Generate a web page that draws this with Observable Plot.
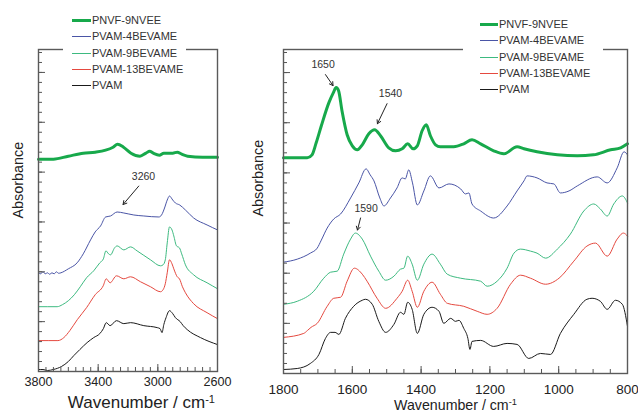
<!DOCTYPE html>
<html><head><meta charset="utf-8">
<script src="https://cdn.jsdelivr.net/npm/d3@7"></script>
<script src="https://cdn.jsdelivr.net/npm/@observablehq/plot@0.6"></script>
<style>
body{margin:0;background:#fff;font-family:"Liberation Sans",Arial,sans-serif;}
#wrap{position:relative;width:638px;height:417px;overflow:hidden;background:#fff;}
.panel{position:absolute;top:0;}
.gap{position:absolute;background:#fff;}
.row{position:absolute;height:14px;display:flex;align-items:center;white-space:nowrap;font-size:11px;color:#333;}
.row span.ln{display:inline-block;margin-right:1px;}
</style>
</head><body><div id="wrap"></div>
<script>
// ---- series ----
const seriesNames = ["PNVF-9NVEE", "PVAM-4BEVAME", "PVAM-9BEVAME", "PVAM-13BEVAME", "PVAM"];
const seriesColors = ["#17a94b", "#4a55a6", "#3dba80", "#e5493f", "#1a1a1a"];
const seriesWidths = [3, 1, 1, 1, 1];

// ---- high-wavenumber region (3800-2600 cm-1): [wavenumber, absorbance(offset)] ----
const hiPNVF = [[3800,2.13],[3700,2.13],[3600,2.16],[3500,2.19],[3420,2.20],[3350,2.22],[3300,2.25],[3270,2.28],[3230,2.25],[3180,2.19],[3120,2.16],[3080,2.19],[3055,2.21],[3030,2.19],[2990,2.17],[2960,2.19],[2900,2.19],[2870,2.20],[2840,2.18],[2800,2.16],[2700,2.15],[2600,2.15]];
const hi4BEV = [[3800,0.99],[3785,0.98],[3770,1.00],[3755,0.98],[3740,0.99],[3725,0.975],[3710,0.99],[3695,0.98],[3680,1.00],[3665,0.985],[3650,0.99],[3600,1.03],[3541,1.09],[3500,1.18],[3451,1.32],[3420,1.40],[3384,1.46],[3350,1.55],[3317,1.56],[3273,1.60],[3228,1.59],[3161,1.57],[3094,1.56],[2993,1.55],[2975,1.57],[2955,1.64],[2937,1.72],[2922,1.76],[2900,1.72],[2882,1.69],[2853,1.67],[2815,1.62],[2760,1.54],[2670,1.47],[2600,1.42]];
const hi9BEV = [[3800,0.65],[3675,0.65],[3640,0.67],[3600,0.71],[3560,0.77],[3520,0.85],[3478,0.94],[3430,1.01],[3389,1.09],[3365,1.13],[3348,1.21],[3330,1.18],[3317,1.17],[3290,1.24],[3273,1.26],[3228,1.22],[3183,1.25],[3139,1.21],[3049,1.12],[2982,1.06],[2965,1.07],[2950,1.12],[2937,1.29],[2922,1.45],[2905,1.42],[2893,1.36],[2875,1.26],[2855,1.24],[2840,1.18],[2815,1.07],[2760,0.97],[2670,0.89],[2600,0.83]];
const hi13BEV = [[3800,0.31],[3670,0.31],[3630,0.34],[3590,0.41],[3540,0.52],[3478,0.64],[3420,0.77],[3366,0.86],[3346,0.93],[3320,0.89],[3277,0.96],[3228,0.93],[3183,0.95],[3116,0.90],[3049,0.85],[2982,0.80],[2965,0.82],[2950,0.88],[2937,0.99],[2922,1.12],[2905,1.08],[2893,1.03],[2870,0.95],[2855,0.93],[2835,0.85],[2815,0.79],[2760,0.68],[2670,0.59],[2600,0.53]];
const hiPVAM = [[3800,0.02],[3770,0.02],[3740,0.01],[3700,0.02],[3646,0.05],[3600,0.10],[3563,0.16],[3523,0.22],[3474,0.29],[3430,0.34],[3389,0.38],[3365,0.43],[3346,0.49],[3320,0.46],[3277,0.51],[3228,0.48],[3183,0.49],[3094,0.46],[3004,0.44],[2985,0.43],[2972,0.39],[2960,0.47],[2945,0.54],[2922,0.61],[2900,0.58],[2882,0.54],[2850,0.50],[2830,0.46],[2803,0.42],[2714,0.34],[2600,0.27]];

// ---- fingerprint region (1800-800 cm-1) ----
const loPNVF = [[1800,2.15],[1731,2.15],[1717,2.18],[1705,2.30],[1690,2.47],[1668,2.70],[1655,2.80],[1647,2.85],[1640,2.82],[1630,2.62],[1615,2.38],[1600,2.27],[1585,2.23],[1571,2.28],[1552,2.39],[1535,2.43],[1518,2.37],[1494,2.25],[1474,2.22],[1455,2.24],[1439,2.29],[1423,2.24],[1411,2.27],[1397,2.42],[1385,2.48],[1373,2.37],[1358,2.28],[1344,2.26],[1305,2.26],[1276,2.29],[1252,2.33],[1227,2.29],[1189,2.22],[1160,2.19],[1121,2.26],[1101,2.24],[1063,2.21],[1004,2.18],[946,2.17],[899,2.18],[849,2.23],[820,2.25],[800,2.29]];
const lo4BEV = [[1800,1.11],[1760,1.14],[1722,1.20],[1702,1.25],[1690,1.33],[1673,1.45],[1654,1.54],[1634,1.59],[1605,1.75],[1581,1.90],[1560,2.04],[1548,1.98],[1537,1.92],[1520,1.75],[1508,1.67],[1489,1.75],[1470,1.85],[1455,1.95],[1446,1.94],[1436,2.03],[1425,1.90],[1411,1.68],[1392,1.82],[1373,1.97],[1348,1.85],[1319,1.89],[1285,1.84],[1271,1.79],[1261,1.80],[1252,1.69],[1227,1.62],[1189,1.55],[1150,1.67],[1121,1.82],[1101,1.92],[1092,1.97],[1063,1.95],[1034,1.90],[1014,1.89],[995,1.80],[970,1.82],[946,1.87],[888,1.96],[859,1.90],[830,2.05],[810,2.21],[800,2.18]];
const lo9BEV = [[1800,0.69],[1760,0.72],[1712,0.82],[1683,0.95],[1663,1.01],[1644,1.02],[1625,1.19],[1605,1.34],[1591,1.40],[1571,1.34],[1547,1.17],[1523,1.02],[1503,0.93],[1479,0.97],[1460,1.04],[1450,1.05],[1439,1.17],[1426,1.09],[1411,0.93],[1392,1.09],[1368,1.19],[1344,1.09],[1324,0.99],[1285,0.95],[1227,0.92],[1208,0.87],[1179,0.92],[1150,1.05],[1130,1.20],[1111,1.24],[1082,1.22],[1063,1.20],[1038,1.15],[1004,1.24],[966,1.39],[927,1.62],[898,1.69],[879,1.64],[859,1.57],[840,1.69],[815,1.77],[800,1.70]];
const lo13BEV = [[1800,0.36],[1741,0.40],[1730,0.43],[1720,0.46],[1702,0.50],[1673,0.67],[1654,0.75],[1634,0.76],[1615,0.92],[1594,1.05],[1571,0.99],[1557,0.92],[1528,0.75],[1503,0.65],[1470,0.75],[1455,0.82],[1439,0.93],[1426,0.82],[1411,0.66],[1392,0.82],[1368,0.91],[1344,0.79],[1324,0.70],[1276,0.67],[1237,0.62],[1208,0.59],[1179,0.65],[1140,0.89],[1111,0.98],[1082,0.95],[1038,0.89],[999,0.95],[956,1.12],[918,1.27],[893,1.30],[859,1.17],[830,1.34],[812,1.40],[800,1.37]];
const loPVAM = [[1800,0.04],[1760,0.05],[1722,0.10],[1697,0.19],[1678,0.35],[1663,0.41],[1650,0.41],[1639,0.39],[1620,0.55],[1596,0.67],[1571,0.73],[1562,0.74],[1542,0.69],[1523,0.52],[1503,0.41],[1479,0.49],[1460,0.61],[1450,0.59],[1439,0.71],[1426,0.64],[1411,0.40],[1392,0.59],[1368,0.66],[1348,0.62],[1334,0.50],[1314,0.55],[1300,0.52],[1290,0.53],[1276,0.45],[1264,0.35],[1258,0.24],[1252,0.32],[1227,0.33],[1189,0.27],[1150,0.30],[1121,0.29],[1087,0.15],[1053,0.20],[1024,0.19],[995,0.40],[956,0.59],[918,0.74],[903,0.75],[879,0.72],[859,0.64],[835,0.73],[815,0.69],[800,0.47]];

// ---- tick labels ----
const hiTickLabels = [3800, 3400, 3000, 2600];
const loTickLabels = [1800, 1600, 1400, 1200, 1000, 800];

// ---- annotations (wavenumber, absorbance) ----
const hiNotes = [{label: "3260", w: 3096, a: 1.955}];
const hiArrows = [{w1: 3128, a1: 1.86, w2: 3233, a2: 1.675}];
const loNotes = [{label: "1650", w: 1685, a: 3.08}, {label: "1540", w: 1489, a: 2.795}, {label: "1590", w: 1560, a: 1.64}];
const loArrows = [{w1: 1678, a1: 2.98, w2: 1656, a2: 2.87}, {w1: 1499, a1: 2.69, w2: 1527, a2: 2.49}, {w1: 1576, a1: 1.55, w2: 1585, a2: 1.43}];

const FONT = '"Liberation Sans", Arial, sans-serif';
const yDomain = [0, 3.23];
const yMinor = d3.range(0, 3.23, 0.1).map(v => +v.toFixed(2));
const yMajor = [0, 0.5, 1, 1.5, 2, 2.5, 3];

function toRows(arr) { return arr.map(([w, a]) => ({w, a})); }

function panel(o) {
  const frameH = o.height - o.mT - o.mB;
  const frameW = o.width - o.mL - o.mR;
  const marks = [];
  o.series.forEach((arr, i) => {
    marks.push(Plot.line(toRows(arr), {x: "w", y: "a", stroke: seriesColors[i], strokeWidth: seriesWidths[i], curve: "monotone-x"}));
  });
  marks.push(
    Plot.tickX(o.minorX, {x: d => d, insetTop: frameH - 4, stroke: "#555", strokeWidth: 1}),
    Plot.tickX(o.majorX, {x: d => d, insetTop: frameH - 7, stroke: "#555", strokeWidth: 1}),
    Plot.tickY(yMinor, {y: d => d, insetRight: frameW - 4, stroke: "#555", strokeWidth: 1}),
    Plot.tickY(yMajor, {y: d => d, insetRight: frameW - 7, stroke: "#555", strokeWidth: 1}),
    Plot.frame({stroke: "#5a5a5a", strokeWidth: 1.4}),
    Plot.axisX({ticks: o.majorX, tickSize: 0, tickPadding: o.tickPad, fontSize: o.tickFont, label: null, tickFormat: d => String(d), fill: "#222"}),
    Plot.text(["Absorbance"], {frameAnchor: "left", text: d => d, rotate: -90, dx: o.absDx, dy: o.absDy, fontSize: 14.4, fill: "#222"}),
    Plot.text(["Wavenumber / cm"], {x: o.labelW, frameAnchor: "bottom", text: d => d, dy: o.labelDy, fontSize: o.labelFont, fill: "#222"}),
    Plot.arrow(o.arrows, {x1: "w1", y1: "a1", x2: "w2", y2: "a2", stroke: "#222", strokeWidth: 1, headLength: 6}),
    Plot.text(o.notes, {x: "w", y: "a", text: "label", fontSize: 10.5, fill: "#333"})
  );
  const svg = Plot.plot({
    width: o.width, height: o.height,
    marginLeft: o.mL, marginRight: o.mR, marginTop: o.mT, marginBottom: o.mB,
    x: {domain: o.xDomain, axis: null},
    y: {domain: yDomain, axis: null},
    style: {fontFamily: FONT, background: "transparent", overflow: "visible"},
    marks
  });
  d3.select(svg).selectAll("text").filter(function() { return this.textContent === "Wavenumber / cm"; })
    .append("tspan").attr("dy", "-0.45em").attr("font-size", "0.65em").text("-1");
  svg.classList.add("panel");
  svg.style.left = o.left + "px";
  return svg;
}

const wrap = document.getElementById("wrap");
wrap.appendChild(panel({
  left: 0, width: 230, height: 417, mL: 38, mR: 13, mT: 49, mB: 46,
  xDomain: [3800, 2600], series: [hiPNVF, hi4BEV, hi9BEV, hi13BEV, hiPVAM],
  minorX: d3.range(3800, 2599, -50), majorX: hiTickLabels,
  tickFont: 12.6, tickPad: 6, labelFont: 17, labelW: 3110, labelDy: 36,
  absDx: -20, absDy: 8, notes: hiNotes, arrows: hiArrows
}));
wrap.appendChild(panel({
  left: 230, width: 408, height: 417, mL: 53, mR: 11, mT: 49, mB: 44,
  xDomain: [1800, 800], series: [loPNVF, lo4BEV, lo9BEV, lo13BEV, loPVAM],
  minorX: d3.range(1800, 799, -50), majorX: loTickLabels,
  tickFont: 13.5, tickPad: 11, labelFont: 14.2, labelW: 1300, labelDy: 36,
  absDx: -25, absDy: 5, notes: loNotes, arrows: loArrows
}));

// legends (overlap the top frame line, white box breaks it)
function legend(gapLeft, gapWidth, lineX, lineW, rowYs) {
  const gap = document.createElement("div");
  gap.className = "gap";
  Object.assign(gap.style, {left: gapLeft + "px", top: "44px", width: gapWidth + "px", height: "10px"});
  wrap.appendChild(gap);
  seriesNames.forEach((name, i) => {
    const row = document.createElement("div");
    row.className = "row";
    row.style.left = lineX + "px";
    row.style.top = (rowYs[i] - 7) + "px";
    const ln = document.createElement("span");
    ln.className = "ln";
    ln.style.width = lineW + "px";
    ln.style.height = "0px";
    ln.style.borderTop = seriesWidths[i] + "px solid " + seriesColors[i];
    row.appendChild(ln);
    const t = document.createElement("span");
    t.textContent = name;
    row.appendChild(t);
    wrap.appendChild(row);
  });
}
legend(63, 123, 72, 19, [20, 36, 53, 69, 85]);
legend(463, 140, 480, 18, [24, 40, 57, 73, 89]);
</script>
</body></html>
